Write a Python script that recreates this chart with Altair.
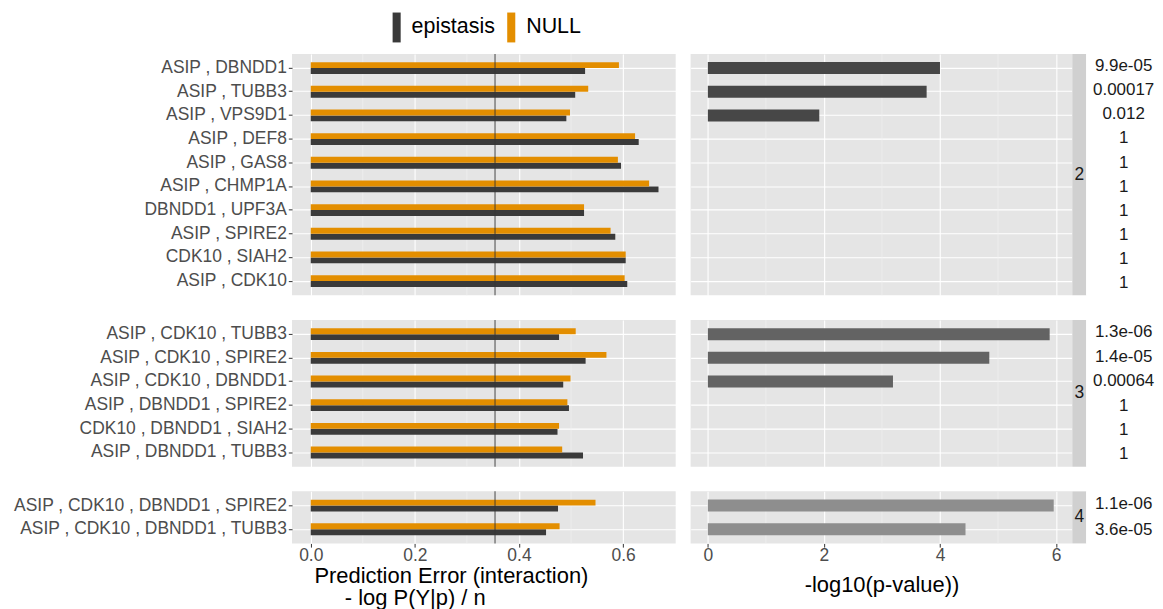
import altair as alt
import pandas as pd

FONT = "Liberation Sans"

# ---------------- data ----------------
pairs2 = ["ASIP , DBNDD1", "ASIP , TUBB3", "ASIP , VPS9D1", "ASIP , DEF8", "ASIP , GAS8",
          "ASIP , CHMP1A", "DBNDD1 , UPF3A", "ASIP , SPIRE2", "CDK10 , SIAH2", "ASIP , CDK10"]
epi2 = [0.527, 0.508, 0.491, 0.630, 0.596, 0.668, 0.525, 0.585, 0.605, 0.608]
null2 = [0.592, 0.533, 0.498, 0.623, 0.590, 0.650, 0.525, 0.576, 0.605, 0.603]
pval2 = ["9.9e-05", "0.00017", "0.012", "1", "1", "1", "1", "1", "1", "1"]
nlp2 = [4.00, 3.77, 1.92, 0, 0, 0, 0, 0, 0, 0]

pairs3 = ["ASIP , CDK10 , TUBB3", "ASIP , CDK10 , SPIRE2", "ASIP , CDK10 , DBNDD1",
          "ASIP , DBNDD1 , SPIRE2", "CDK10 , DBNDD1 , SIAH2", "ASIP , DBNDD1 , TUBB3"]
epi3 = [0.477, 0.528, 0.485, 0.496, 0.474, 0.523]
null3 = [0.509, 0.568, 0.499, 0.493, 0.477, 0.483]
pval3 = ["1.3e-06", "1.4e-05", "0.00064", "1", "1", "1"]
nlp3 = [5.89, 4.85, 3.19, 0, 0, 0]

pairs4 = ["ASIP , CDK10 , DBNDD1 , SPIRE2", "ASIP , CDK10 , DBNDD1 , TUBB3"]
epi4 = [0.475, 0.452]
null4 = [0.547, 0.478]
pval4 = ["1.1e-06", "3.6e-05"]
nlp4 = [5.96, 4.44]

groups = ["2", "3", "4"]
group_colors = ["#474747", "#636363", "#8E8E8E"]
series = ["epistasis", "NULL"]
series_colors = ["#3A3A3A", "#E38E00"]
threshold = [0.354]

left_ticks = [0.0, 0.2, 0.4, 0.6]
left_minor = [0.1, 0.3, 0.5]
right_ticks = [0, 2, 4, 6]
right_minor = [1, 3, 5]

left_title = ["Prediction Error (interaction)",
              "\u200b\u00a0\u00a0\u00a0\u00a0\u00a0- log P(Y|p) / n"]
right_title = "-log10(p-value))"

# ---------------- layout ----------------
STEP = 23.75
LEFT_W = 385
RIGHT_W = 383
STRIP_W = 14
PV_W = 67
LABEL_EXT = 285
PANEL_BG = "#E5E5E5"

legend = alt.Legend(orient="none", legendX=90, legendY=-41.5, direction="horizontal",
                    title=None, symbolType="M-0.27,-1H0.27V1H-0.27Z", symbolSize=900,
                    symbolStrokeWidth=0, labelFontSize=21.5, labelColor="black",
                    labelOffset=0, columnPadding=1, labelFont=FONT)


def x_axis(values, fmt, bottom, title, title_x=None, title_pad=0):
    kw = dict(values=values, format=fmt, grid=True, gridColor="white", gridWidth=1.1,
              domain=False, ticks=bottom, labels=bottom, tickSize=3.7, tickColor="#333333",
              labelFontSize=17.5, labelColor="#4D4D4D", labelPadding=-1, labelFont=FONT)
    if bottom:
        kw.update(title=title, titleFontSize=22, titleFontWeight="normal", titleColor="black",
                  titleFont=FONT, titlePadding=title_pad, titleLineHeight=22)
        if title_x is not None:
            kw.update(titleX=title_x, titleAlign="left")
    else:
        kw.update(title=None)
    return alt.Axis(**kw)


def make_row(pairs, epi, null, pv, nlp, grp, gcolor, bottom):
    n = len(pairs)
    H = STEP * (n + 0.2)
    yscale = alt.Scale(domain=pairs, paddingInner=0, paddingOuter=0.1)
    panel_view = alt.ViewBackground(fill=PANEL_BG, strokeWidth=0)

    # ---- left panel ----
    lx_scale = alt.Scale(domain=[-0.036, 0.701], nice=False, zero=False)
    lx_axis = x_axis(left_ticks, ".1f", bottom, left_title, title_x=22, title_pad=2)
    ly_axis = alt.Axis(labelFontSize=17.5, labelColor="#4D4D4D", tickSize=3.7, tickColor="#333333",
                       domain=False, grid=True, gridColor="white", gridWidth=1.1, labelPadding=2,
                       minExtent=LABEL_EXT, maxExtent=LABEL_EXT, title=None, bandPosition=0.5,
                       labelLimit=320, labelFont=FONT)
    df_bars = pd.DataFrame({"pair": pairs + pairs,
                            "type": [series[0]] * n + [series[1]] * n,
                            "x": epi + null})
    minor_l = alt.Chart(pd.DataFrame({"x": left_minor})).mark_rule(
        color="#F2F2F2", strokeWidth=0.6).encode(x=alt.X("x:Q", scale=lx_scale, axis=lx_axis))
    bars_l = alt.Chart(df_bars).mark_bar().encode(
        x=alt.X("x:Q", scale=lx_scale, axis=lx_axis),
        y=alt.Y("pair:N", scale=yscale, axis=ly_axis),
        yOffset=alt.YOffset("type:N", sort=["NULL", "epistasis"],
                            scale=alt.Scale(paddingInner=0, paddingOuter=1)),
        color=alt.Color("type:N", scale=alt.Scale(domain=series, range=series_colors), legend=legend),
    )
    vline = alt.Chart(pd.DataFrame({"x": threshold})).mark_rule(
        color="#333333", opacity=0.6, strokeWidth=1.5).encode(x=alt.X("x:Q", scale=lx_scale, axis=lx_axis))
    left = alt.layer(minor_l, bars_l, vline).properties(width=LEFT_W, height=H, view=panel_view)

    # ---- right panel ----
    rx_scale = alt.Scale(domain=[-0.297, 6.28], nice=False, zero=False)
    rx_axis = x_axis(right_ticks, "d", bottom, right_title, title_pad=11)
    ry_axis = alt.Axis(labels=False, ticks=False, domain=False, grid=True, gridColor="white",
                       gridWidth=1.1, minExtent=0, maxExtent=0, title=None, bandPosition=0.5)
    df_r = pd.DataFrame({"pair": pairs, "x": nlp})
    minor_r = alt.Chart(pd.DataFrame({"x": right_minor})).mark_rule(
        color="#F2F2F2", strokeWidth=0.6).encode(x=alt.X("x:Q", scale=rx_scale, axis=rx_axis))
    bars_r = alt.Chart(df_r).mark_bar(size=12, color=gcolor).encode(
        x=alt.X("x:Q", scale=rx_scale, axis=rx_axis),
        y=alt.Y("pair:N", scale=yscale, axis=ry_axis),
    )
    right = alt.layer(minor_r, bars_r).properties(width=RIGHT_W, height=H, view=panel_view)

    # ---- strip ----
    strip = alt.Chart(pd.DataFrame({"g": [grp]})).mark_text(
        fontSize=17.5, color="#1A1A1A", font=FONT).encode(text="g:N").properties(
        width=STRIP_W, height=H, view=alt.ViewBackground(fill="#D0D0D0", strokeWidth=0))

    # ---- p-value labels ----
    pvc = alt.Chart(pd.DataFrame({"pair": pairs, "p": pv})).mark_text(
        fontSize=17, color="#1A1A1A", font=FONT, dx=4).encode(
        y=alt.Y("pair:N", scale=yscale, axis=None), text="p:N").properties(
        width=PV_W, height=H, view=alt.ViewBackground(fill="white", strokeWidth=0))

    return alt.hconcat(left, alt.hconcat(right, strip, pvc, spacing=0), spacing=15)


row2 = make_row(pairs2, epi2, null2, pval2, nlp2, groups[0], group_colors[0], False)
row3 = make_row(pairs3, epi3, null3, pval3, nlp3, groups[1], group_colors[1], False)
row4 = make_row(pairs4, epi4, null4, pval4, nlp4, groups[2], group_colors[2], True)

chart = alt.vconcat(row2, row3, row4, spacing=23).properties(
    padding={"left": 0, "top": 3, "right": 0, "bottom": 0}
).configure(font=FONT).configure_view(fill=PANEL_BG, strokeWidth=0)

chart.save("out.html", embed_options={"renderer": "svg", "actions": False})
